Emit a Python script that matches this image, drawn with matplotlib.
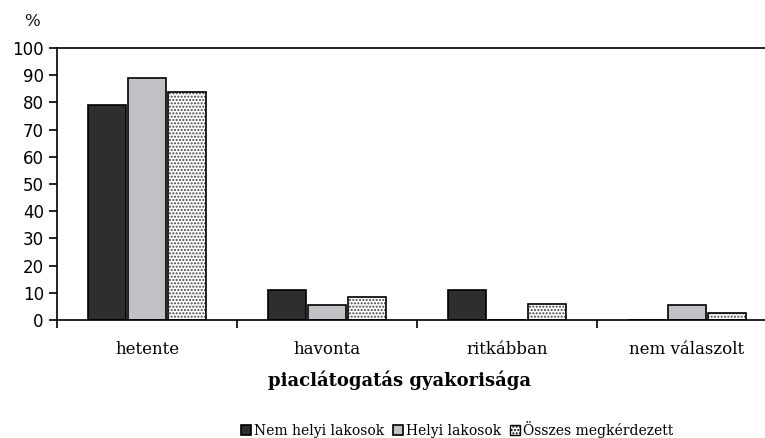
import matplotlib
matplotlib.use("Agg")
import matplotlib.pyplot as plt
import matplotlib.patches as mpatches
import numpy as np

categories = ["hetente", "havonta", "ritkábban", "nem válaszolt"]
series_names = ["Nem helyi lakosok", "Helyi lakosok", "Összes megkérdezett"]
nem_helyi = [79, 11, 11, 0]
helyi = [89, 5.5, 0, 5.5]
osszes = [84, 8.5, 6, 2.5]
yticks = list(range(0, 101, 10))

plt.rcParams['hatch.linewidth'] = 1.0
fig = plt.figure(figsize=(7.65, 4.38), dpi=100)
W, H = 765, 438
ax = fig.add_axes([57 / W, (H - 320) / H, 720 / W, 272 / H])

x = np.arange(len(categories))
step = 0.222
bw = 0.216
ax.bar(x - step, nem_helyi, bw, color="#2e2e2e", edgecolor="black", linewidth=1.2, label=series_names[0])
ax.bar(x, helyi, bw, color="#c3c1c5", edgecolor="black", linewidth=1.2, label=series_names[1])
ax.bar(x + step, osszes, bw, color="white", edgecolor="#444444", linewidth=0, hatch=".....")
ax.bar(x + step, osszes, bw, color="none", edgecolor="black", linewidth=1.2)
h1, l1 = ax.get_legend_handles_labels()
proxy = mpatches.Patch(facecolor="white", edgecolor="black", hatch=".....", linewidth=1.0, label=series_names[2])

ax.set_xlim(-0.5, 3.5)
ax.set_ylim(0, 100)
ax.set_yticks(yticks)
ax.set_yticklabels([str(v) for v in yticks], fontsize=12, family="DejaVu Sans")
ax.set_xticks(np.arange(-0.5, 3.6, 1.0), minor=False)
ax.set_xticklabels([])
ax.set_xticks(x, minor=True)
ax.set_xticklabels(categories, minor=True, fontsize=12, family="DejaVu Serif")
ax.tick_params(axis="x", which="minor", length=0, pad=15)
ax.tick_params(axis="x", which="major", length=6, direction="out", width=1.2)
ax.tick_params(axis="y", length=6, direction="out", width=1.2)
for s in ax.spines.values():
    s.set_linewidth(1.2)

fig.text(32 / W, 1 - 21 / H, "%", fontsize=12, family="DejaVu Serif", ha="center", va="center")
fig.text(400 / W, 1 - 380 / H, "piaclátogatás gyakorisága", fontsize=13, family="DejaVu Serif",
         fontweight="bold", ha="center", va="center")
fig.legend(handles=h1 + [proxy], loc="center", bbox_to_anchor=(457 / W, 1 - 429 / H), ncol=3, frameon=False,
           prop={"family": "DejaVu Serif", "size": 10}, handlelength=0.75, handleheight=0.75,
           handletextpad=0.2, columnspacing=0.6)

fig.savefig("out.png", dpi=100)
